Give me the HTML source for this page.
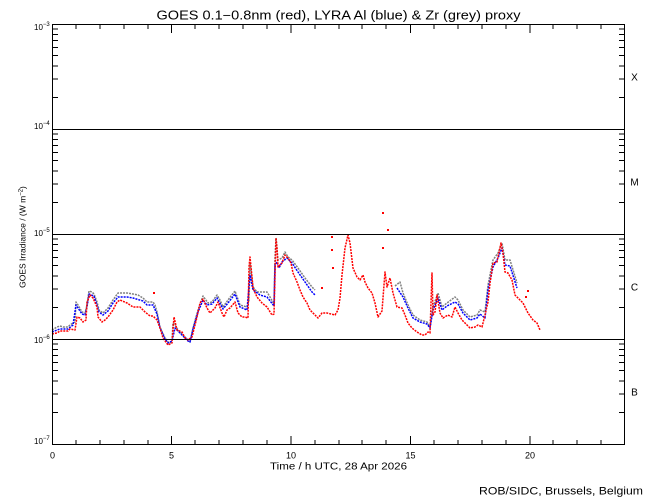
<!DOCTYPE html>
<html><head><meta charset="utf-8"><style>
html,body{margin:0;padding:0;background:#fff;}
svg{display:block;}
text{font-family:"Liberation Sans",sans-serif;fill:#000;}
</style></head><body>
<svg width="650" height="500" viewBox="0 0 650 500" xmlns="http://www.w3.org/2000/svg">
<rect width="650" height="500" fill="#fff"/>
<text x="338.5" y="19.5" font-size="12.5" text-anchor="middle" textLength="364" lengthAdjust="spacingAndGlyphs">GOES 0.1−0.8nm (red), LYRA Al (blue) &amp; Zr (grey) proxy</text>

<g fill="none" stroke-linejoin="round" stroke-width="1.5" stroke-dasharray="2 1">
<polyline stroke="#808080" points="52,330 57,327 60,326 63,327 68,327 70,325 73,323 75,322 76,302 78,305 82,312 85,313 87,305 89,291 92,292 94,294 97,302 99,310 103,313 108,308 113,300 118,293 127,293 133,294 138,295 143,298 147,302 153,302 155,305 157,312 160,327 165,338 168,342 170,343 172,340 173,323 175,325 178,330 183,335 188,340 190,342 193,328 198,310 203,296 208,303 212,302 217,295 220,300 223,307 228,300 235,291 240,305 247,307 249,300 250,263 253,287 257,292 267,292 270,297 274,304 275,258 276,238 278,260 282,258 285,252 288,257 292,260 298,268 305,278 312,287 315,290"/>
<polyline stroke="#808080" points="395,286 400,282 403,293 408,305 413,315 420,320 427,322 430,327 433,307 438,293 442,307 447,303 455,297 458,300 463,310 470,317 477,315 480,310 485,312 488,285 493,260 498,253 502,243 505,260 510,260 517,283"/>
<polyline stroke="#0000ff" points="52,332 57,330 60,329 68,329 73,325 76,305 82,314 85,315 87,307 89,294 94,296 99,312 103,315 108,311 113,303 118,297 127,297 133,298 143,301 147,305 153,305 157,314 160,328 165,339 168,343 172,341 175,328 178,331 183,336 188,341 190,342 193,329 198,312 203,300 207,305 212,304 217,298 223,309 228,303 235,294 240,307 247,310 250,275 253,290 260,295 267,297 274,306 275,265 277,262 279,268 282,262 287,258 292,263 298,272 305,282 312,292 315,295"/>
<polyline stroke="#0000ff" points="397,288 403,297 408,308 413,318 420,322 427,324 430,328 433,310 438,298 442,310 447,306 455,302 458,304 463,313 470,320 477,318 480,314 485,318 488,290 493,267 498,258 502,248 505,265 510,266 517,288"/>
<polyline stroke="#ff0000" points="52,334 57,333 60,331 68,331 70,329 75,330 77,317 80,318 83,322 86,320 87,302 90,295 93,298 97,307 98,317 102,322 105,320 108,317 113,310 117,302 120,300 127,303 133,307 140,307 145,312 150,316 153,316 157,320 160,328 163,338 168,345 170,344 172,343 174,317 177,330 182,332 185,338 188,340 192,337 197,317 200,303 203,299 207,308 210,313 215,308 218,302 222,313 224,317 227,310 230,308 235,302 238,313 242,317 245,317 248,318 249,267 250,257 252,277 253,288 257,297 262,303 267,307 272,315 274,314 276,238 277,248 278,267 282,263 285,255 288,258 291,263 293,273 297,282 300,290 303,297 307,303 310,310 315,315 318,318 322,313 327,313 335,315 338,310 340,298 342,275 345,248 348,235 350,243 353,268 357,277 360,280 363,275 365,282 368,288 372,293 375,303 378,317 382,311 385,272 387,287 390,278 393,293 397,307 402,308 405,315 408,323 412,328 417,332 422,335 425,335 428,332 430,333 432,273 433,315 435,312 437,295 440,313 443,318 448,315 452,317 455,307 458,313 462,320 467,325 470,328 475,327 478,325 482,327 485,315 488,302 490,283 492,270 493,263 497,262 498,257 501,243 503,253 505,272 508,273 512,280 515,295 520,300 523,303 528,313 533,320 537,323 540,330"/>
</g>
<g fill="#ff0000">
<rect x="153" y="292" width="2" height="2"/>
<rect x="321" y="287" width="2" height="2"/>
<rect x="331" y="236" width="2" height="2"/>
<rect x="331" y="249" width="2" height="2"/>
<rect x="332" y="267" width="2" height="2"/>
<rect x="382" y="212" width="2" height="2"/>
<rect x="382" y="247" width="2" height="2"/>
<rect x="387" y="229" width="2" height="2"/>
<rect x="525" y="296" width="2" height="2"/>
<rect x="527" y="290" width="2" height="2"/>
</g>

<g stroke="#000" stroke-width="1" fill="none" shape-rendering="crispEdges">
<rect x="52.5" y="24.5" width="572" height="420"/>
<path d="M52 129.5H625M52 234.5H625M52 339.5H625"/>
<path d="M52.5 444v-8M76 444v-4M100 444v-4M124 444v-4M148 444v-4M171.5 444v-8M195 444v-4M219 444v-4M243 444v-4M267 444v-4M291 444v-8M315 444v-4M339 444v-4M362 444v-4M386 444v-4M410.5 444v-8M434 444v-4M458 444v-4M482 444v-4M506 444v-4M530 444v-8M553 444v-4M577 444v-4M601 444v-4"/>
<path d="M52.5 25v8M76 25v4M100 25v4M124 25v4M148 25v4M171.5 25v8M195 25v4M219 25v4M243 25v4M267 25v4M291 25v8M315 25v4M339 25v4M362 25v4M386 25v4M410.5 25v8M434 25v4M458 25v4M482 25v4M506 25v4M530 25v8M553 25v4M577 25v4M601 25v4"/>
<path d="M52 97.5h6M52 79h6M52 66h6M52 55.5h6M52 47.5h6M52 40.5h6M52 34.5h6M52 29h6
M52 202.5h6M52 184h6M52 171h6M52 160.5h6M52 152.5h6M52 145.5h6M52 139.5h6M52 134h6
M52 307.5h6M52 289h6M52 276h6M52 265.5h6M52 257.5h6M52 250.5h6M52 244.5h6M52 239h6
M52 412.5h6M52 394h6M52 381h6M52 370.5h6M52 362.5h6M52 355.5h6M52 349.5h6M52 344h6"/>
<path d="M625 97.5h-6M625 79h-6M625 66h-6M625 55.5h-6M625 47.5h-6M625 40.5h-6M625 34.5h-6M625 29h-6
M625 202.5h-6M625 184h-6M625 171h-6M625 160.5h-6M625 152.5h-6M625 145.5h-6M625 139.5h-6M625 134h-6
M625 307.5h-6M625 289h-6M625 276h-6M625 265.5h-6M625 257.5h-6M625 250.5h-6M625 244.5h-6M625 239h-6
M625 412.5h-6M625 394h-6M625 381h-6M625 370.5h-6M625 362.5h-6M625 355.5h-6M625 349.5h-6M625 344h-6"/>
</g>

<g font-size="8">
<text x="34" y="30">10<tspan font-size="6" dy="-4">−3</tspan></text>
<text x="34" y="129">10<tspan font-size="6" dy="-4">−4</tspan></text>
<text x="34" y="236">10<tspan font-size="6" dy="-4">−5</tspan></text>
<text x="34" y="343">10<tspan font-size="6" dy="-4">−6</tspan></text>
<text x="34" y="444">10<tspan font-size="6" dy="-4">−7</tspan></text>
</g>

<g font-size="9" text-anchor="middle">
<text x="52.5" y="458.5">0</text>
<text x="171.5" y="458.5">5</text>
<text x="291" y="458.5">10</text>
<text x="410.5" y="458.5">15</text>
<text x="530" y="458.5">20</text>
</g>
<text x="338.5" y="469.5" font-size="10" text-anchor="middle" textLength="137" lengthAdjust="spacingAndGlyphs">Time / h UTC, 28 Apr 2026</text>

<text transform="translate(25.5,237) rotate(-90)" font-size="8.5" text-anchor="middle">GOES Irradiance / (W m<tspan font-size="6" dy="-3">−2</tspan><tspan dy="3">)</tspan></text>

<g font-size="10" text-anchor="middle">
<text x="634.5" y="80.5">X</text>
<text x="634.5" y="185.5">M</text>
<text x="634.5" y="290.5">C</text>
<text x="634.5" y="395.5">B</text>
</g>

<text x="643" y="494.5" font-size="11" text-anchor="end" textLength="164" lengthAdjust="spacingAndGlyphs">ROB/SIDC, Brussels, Belgium</text>
</svg>
</body></html>
